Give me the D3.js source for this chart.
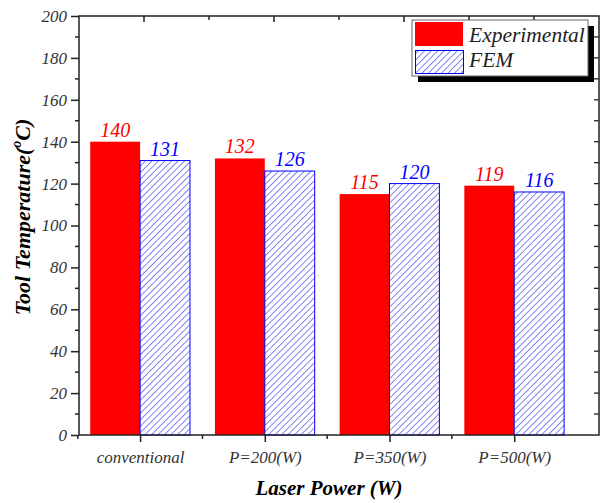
<!DOCTYPE html>
<html>
<head>
<meta charset="utf-8">
<script src="https://cdn.jsdelivr.net/npm/d3@7"></script>
<style>
  body { margin: 0; background: #fff; }
  text { font-family: "Liberation Serif", "DejaVu Serif", serif; font-style: italic; }
</style>
</head>
<body>
<svg id="chart" width="606" height="503"></svg>
<script>
// chart data
const categories = ["conventional", "P=200(W)", "P=350(W)", "P=500(W)"];
const experimental = [140, 132, 115, 119];
const fem = [131, 126, 120, 116];
const yTicks = [0, 20, 40, 60, 80, 100, 120, 140, 160, 180, 200];
const seriesNames = ["Experimental", "FEM"];

var svg = d3.select("#chart");

// note: "top" is taken by window.top, so plot edges get their own names
var plotL = 79, plotR = 599, plotT = 16, plotB = 435;

// categories sit at 1..4 on a numeric axis, like the origin plot
var x = d3.scaleLinear().domain([0.51, 4.68]).range([plotL, plotR]);
var y = d3.scaleLinear().domain([0, 200]).range([plotB, plotT]);
var barW = x(1.4) - x(1);

// hatch pattern for FEM bars
var defs = svg.append("defs");
defs.append("pattern")
  .attr("id", "hatch")
  .attr("patternUnits", "userSpaceOnUse")
  .attr("width", 4.6)
  .attr("height", 4.6)
  .attr("patternTransform", "rotate(45)")
  .append("line")
  .attr("x1", 0).attr("y1", 0)
  .attr("x2", 0).attr("y2", 4.6)
  .attr("stroke", "#7878f4")
  .attr("stroke-width", 1.8);

// bars
svg.selectAll(".exp")
  .data(experimental)
  .enter()
  .append("rect")
  .attr("class", "exp")
  .attr("x", (d, i) => x(i + 1) - barW)
  .attr("y", d => y(d))
  .attr("width", barW)
  .attr("height", d => plotB - y(d))
  .attr("fill", "#ff0000");

svg.selectAll(".fem")
  .data(fem)
  .enter()
  .append("rect")
  .attr("class", "fem")
  .attr("x", (d, i) => x(i + 1))
  .attr("y", d => y(d))
  .attr("width", barW)
  .attr("height", d => plotB - y(d))
  .attr("fill", "url(#hatch)")
  .attr("stroke", "#0000ff")
  .attr("stroke-width", 1);

// value labels
svg.selectAll(".expLab")
  .data(experimental)
  .enter()
  .append("text")
  .attr("x", (d, i) => x(i + 1) - barW / 2)
  .attr("y", d => y(d) - 5)
  .attr("text-anchor", "middle")
  .attr("font-size", 20)
  .attr("fill", "#ff0000")
  .text(d => d);

svg.selectAll(".femLab")
  .data(fem)
  .enter()
  .append("text")
  .attr("x", (d, i) => x(i + 1) + barW / 2)
  .attr("y", d => y(d) - 5)
  .attr("text-anchor", "middle")
  .attr("font-size", 20)
  .attr("fill", "#0000ff")
  .text(d => d);

// left axis
var yAxis = svg.append("g")
  .attr("transform", `translate(${plotL},0)`)
  .call(d3.axisLeft(y).tickValues(yTicks).tickSize(8).tickPadding(4));
yAxis.selectAll("text")
  .attr("font-size", 17)
  .attr("fill", "#333")
  .style("font-family", "Liberation Serif")
  .style("font-style", "italic");
yAxis.select(".domain").remove();
yAxis.selectAll("line").attr("stroke", "#222").attr("stroke-width", 1.5);
// minor ticks
svg.append("g")
  .selectAll("line")
  .data(d3.range(10, 200, 20))
  .enter()
  .append("line")
  .attr("x1", plotL - 4).attr("x2", plotL)
  .attr("y1", d => y(d)).attr("y2", d => y(d))
  .attr("stroke", "#222").attr("stroke-width", 1.5);

// right axis ticks point inward
svg.append("g")
  .selectAll("line")
  .data(d3.range(10, 200, 10))
  .enter()
  .append("line")
  .attr("x1", plotR - 5).attr("x2", plotR)
  .attr("y1", d => y(d)).attr("y2", d => y(d))
  .attr("stroke", "#222").attr("stroke-width", 1.3);

// top ticks
svg.append("g")
  .selectAll("line")
  .data(d3.range(1, 8))
  .enter()
  .append("line")
  .attr("x1", d => plotL + d * 65).attr("x2", d => plotL + d * 65)
  .attr("y1", plotT)
  .attr("y2", d => plotT + (d % 2 ? 6 : 4))
  .attr("stroke", "#222").attr("stroke-width", 1.5);

// bottom axis
var xAxis = svg.append("g")
  .attr("transform", `translate(0,${plotB})`)
  .call(d3.axisBottom(x).tickValues([1, 2, 3, 4]).tickFormat((d, i) => categories[i]).tickSize(7).tickPadding(9));
xAxis.select(".domain").remove();
xAxis.selectAll("text")
  .attr("font-size", 17)
  .attr("fill", "#333")
  .style("font-family", "Liberation Serif")
  .style("font-style", "italic");
xAxis.selectAll("line").attr("stroke", "#222").attr("stroke-width", 1.5);
svg.append("g")
  .selectAll("line")
  .data([0.5, 1.5, 2.5, 3.5])
  .enter()
  .append("line")
  .attr("x1", d => x(d)).attr("x2", d => x(d))
  .attr("y1", plotB).attr("y2", plotB + 4)
  .attr("stroke", "#222").attr("stroke-width", 1.5);

// frame
svg.append("rect")
  .attr("x", plotL).attr("y", plotT)
  .attr("width", plotR - plotL).attr("height", plotB - plotT)
  .attr("fill", "none")
  .attr("stroke", "#222")
  .attr("stroke-width", 1.5);

// axis titles
svg.append("text")
  .attr("x", (plotL + plotR) / 2 - 10)
  .attr("y", 495)
  .attr("text-anchor", "middle")
  .attr("font-size", 21)
  .attr("font-weight", "bold")
  .text("Laser Power (W)");

var yt = svg.append("text")
  .attr("transform", "translate(30,217) rotate(-90)")
  .attr("text-anchor", "middle")
  .attr("font-size", 22)
  .attr("font-weight", "bold");
yt.append("tspan").text("Tool Temperature(");
yt.append("tspan").attr("font-size", 14).attr("dy", -9).text("o");
yt.append("tspan").attr("dy", 9).text("C)");

// legend with drop shadow
var lg = svg.append("g");
lg.append("rect")
  .attr("x", 418).attr("y", 26)
  .attr("width", 176).attr("height", 56)
  .attr("fill", "#000");
lg.append("rect")
  .attr("x", 412).attr("y", 20)
  .attr("width", 176).attr("height", 56)
  .attr("fill", "#fff")
  .attr("stroke", "#666")
  .attr("stroke-width", 1);
lg.append("rect")
  .attr("x", 415).attr("y", 22)
  .attr("width", 48).attr("height", 24)
  .attr("fill", "#ff0000");
lg.append("rect")
  .attr("x", 415.5).attr("y", 50.5)
  .attr("width", 48).attr("height", 23)
  .attr("fill", "url(#hatch)")
  .attr("stroke", "#0000ff");
lg.selectAll(".lgText")
  .data(seriesNames)
  .enter()
  .append("text")
  .attr("x", 469)
  .attr("y", (d, i) => 42 + i * 25)
  .attr("font-size", 21.5)
  .attr("fill", "#222")
  .text(d => d);
</script>
</body>
</html>
